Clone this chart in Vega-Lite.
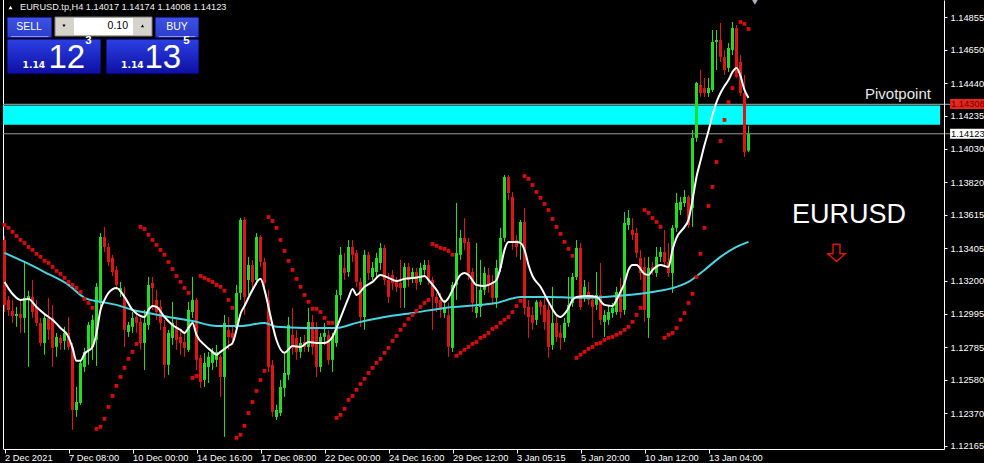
{
"$schema":"https://vega.github.io/schema/vega-lite/v6.json",
"width":941,"height":449,
"autosize":{"type":"none"},
"padding":{"left":3,"top":0,"right":40,"bottom":14},
"background":"#000000",
"config":{"view":{"stroke":null},"scale":{"continuousPadding":0}},
"resolve":{"axis":{"x":"independent","y":"independent"}},
"datasets":{
"one":[{"k":1}],
"candles":[
{"bar":0,"o":1.13457,"h":1.13482,"l":1.13005,"c":1.13050},
{"bar":1,"o":1.13081,"h":1.13106,"l":1.12980,"c":1.13018},
{"bar":2,"o":1.13012,"h":1.13081,"l":1.12937,"c":1.12980},
{"bar":3,"o":1.12980,"h":1.13037,"l":1.12912,"c":1.12993},
{"bar":4,"o":1.12993,"h":1.13081,"l":1.12874,"c":1.12968},
{"bar":5,"o":1.12968,"h":1.13319,"l":1.12874,"c":1.13094},
{"bar":6,"o":1.13081,"h":1.13138,"l":1.12661,"c":1.13106},
{"bar":7,"o":1.13100,"h":1.13206,"l":1.12968,"c":1.13005},
{"bar":8,"o":1.13037,"h":1.13081,"l":1.12918,"c":1.12937},
{"bar":9,"o":1.12937,"h":1.12968,"l":1.12792,"c":1.12811},
{"bar":10,"o":1.12811,"h":1.12999,"l":1.12737,"c":1.12968},
{"bar":11,"o":1.12968,"h":1.13094,"l":1.12830,"c":1.12893},
{"bar":12,"o":1.12968,"h":1.13050,"l":1.12661,"c":1.12780},
{"bar":13,"o":1.12786,"h":1.12874,"l":1.12724,"c":1.12849},
{"bar":14,"o":1.12843,"h":1.12862,"l":1.12768,"c":1.12811},
{"bar":15,"o":1.12824,"h":1.12912,"l":1.12768,"c":1.12874},
{"bar":16,"o":1.12874,"h":1.12974,"l":1.12768,"c":1.12786},
{"bar":17,"o":1.12786,"h":1.12811,"l":1.12266,"c":1.12391},
{"bar":18,"o":1.12391,"h":1.12535,"l":1.12347,"c":1.12441},
{"bar":19,"o":1.12435,"h":1.12705,"l":1.12423,"c":1.12686},
{"bar":20,"o":1.12661,"h":1.12780,"l":1.12629,"c":1.12755},
{"bar":21,"o":1.12768,"h":1.12943,"l":1.12674,"c":1.12924},
{"bar":22,"o":1.12786,"h":1.12987,"l":1.12705,"c":1.12956},
{"bar":23,"o":1.12830,"h":1.13187,"l":1.12667,"c":1.13163},
{"bar":24,"o":1.13062,"h":1.13501,"l":1.13031,"c":1.13476},
{"bar":25,"o":1.13476,"h":1.13539,"l":1.13382,"c":1.13413},
{"bar":26,"o":1.13413,"h":1.13438,"l":1.13294,"c":1.13319},
{"bar":27,"o":1.13345,"h":1.13364,"l":1.13231,"c":1.13256},
{"bar":28,"o":1.13269,"h":1.13294,"l":1.13144,"c":1.13175},
{"bar":29,"o":1.13131,"h":1.13194,"l":1.13100,"c":1.13156},
{"bar":30,"o":1.13100,"h":1.13163,"l":1.12786,"c":1.12893},
{"bar":31,"o":1.12880,"h":1.12943,"l":1.12849,"c":1.12924},
{"bar":32,"o":1.12912,"h":1.13005,"l":1.12874,"c":1.12968},
{"bar":33,"o":1.12974,"h":1.13018,"l":1.12874,"c":1.12937},
{"bar":34,"o":1.12943,"h":1.12968,"l":1.12768,"c":1.12811},
{"bar":35,"o":1.12811,"h":1.13018,"l":1.12642,"c":1.12937},
{"bar":36,"o":1.12924,"h":1.13225,"l":1.12893,"c":1.13175},
{"bar":37,"o":1.13187,"h":1.13225,"l":1.13018,"c":1.13156},
{"bar":38,"o":1.13081,"h":1.13144,"l":1.12956,"c":1.13005},
{"bar":39,"o":1.13037,"h":1.13081,"l":1.12893,"c":1.12937},
{"bar":40,"o":1.12912,"h":1.12956,"l":1.12592,"c":1.12674},
{"bar":41,"o":1.12674,"h":1.12893,"l":1.12611,"c":1.12874},
{"bar":42,"o":1.12843,"h":1.13069,"l":1.12799,"c":1.12937},
{"bar":43,"o":1.12905,"h":1.12956,"l":1.12768,"c":1.12830},
{"bar":44,"o":1.12849,"h":1.12893,"l":1.12737,"c":1.12811},
{"bar":45,"o":1.12817,"h":1.12874,"l":1.12724,"c":1.12780},
{"bar":46,"o":1.12768,"h":1.13069,"l":1.12755,"c":1.13018},
{"bar":47,"o":1.13005,"h":1.13225,"l":1.12968,"c":1.13081},
{"bar":48,"o":1.13081,"h":1.13094,"l":1.12642,"c":1.12705},
{"bar":49,"o":1.12717,"h":1.12737,"l":1.12529,"c":1.12567},
{"bar":50,"o":1.12579,"h":1.12749,"l":1.12535,"c":1.12686},
{"bar":51,"o":1.12661,"h":1.12755,"l":1.12560,"c":1.12724},
{"bar":52,"o":1.12686,"h":1.12780,"l":1.12642,"c":1.12755},
{"bar":53,"o":1.12705,"h":1.12799,"l":1.12661,"c":1.12755},
{"bar":54,"o":1.12724,"h":1.12737,"l":1.12473,"c":1.12598},
{"bar":55,"o":1.12598,"h":1.12987,"l":1.12222,"c":1.12937},
{"bar":56,"o":1.12893,"h":1.12974,"l":1.12768,"c":1.12849},
{"bar":57,"o":1.12874,"h":1.12924,"l":1.12799,"c":1.12843},
{"bar":58,"o":1.12905,"h":1.13175,"l":1.12874,"c":1.13125},
{"bar":59,"o":1.13125,"h":1.13595,"l":1.13081,"c":1.13583},
{"bar":60,"o":1.13583,"h":1.13601,"l":1.12987,"c":1.13100},
{"bar":61,"o":1.13206,"h":1.13351,"l":1.13112,"c":1.13300},
{"bar":62,"o":1.13300,"h":1.13332,"l":1.13144,"c":1.13194},
{"bar":63,"o":1.13206,"h":1.13501,"l":1.13175,"c":1.13476},
{"bar":64,"o":1.13476,"h":1.13489,"l":1.13288,"c":1.13319},
{"bar":65,"o":1.13319,"h":1.13345,"l":1.13144,"c":1.13187},
{"bar":66,"o":1.13081,"h":1.13144,"l":1.12629,"c":1.12661},
{"bar":67,"o":1.12674,"h":1.12705,"l":1.12347,"c":1.12379},
{"bar":68,"o":1.12347,"h":1.12423,"l":1.12328,"c":1.12391},
{"bar":69,"o":1.12372,"h":1.12579,"l":1.12353,"c":1.12535},
{"bar":70,"o":1.12529,"h":1.12749,"l":1.12473,"c":1.12623},
{"bar":71,"o":1.12611,"h":1.12974,"l":1.12579,"c":1.12924},
{"bar":72,"o":1.12862,"h":1.13031,"l":1.12737,"c":1.12780},
{"bar":73,"o":1.12843,"h":1.12893,"l":1.12705,"c":1.12755},
{"bar":74,"o":1.12755,"h":1.12849,"l":1.12717,"c":1.12811},
{"bar":75,"o":1.12817,"h":1.12862,"l":1.12755,"c":1.12786},
{"bar":76,"o":1.12786,"h":1.13031,"l":1.12755,"c":1.12943},
{"bar":77,"o":1.12943,"h":1.12987,"l":1.12737,"c":1.12786},
{"bar":78,"o":1.12905,"h":1.12943,"l":1.12598,"c":1.12661},
{"bar":79,"o":1.12661,"h":1.12874,"l":1.12629,"c":1.12849},
{"bar":80,"o":1.12849,"h":1.12937,"l":1.12799,"c":1.12874},
{"bar":81,"o":1.12862,"h":1.12893,"l":1.12674,"c":1.12705},
{"bar":82,"o":1.12705,"h":1.12874,"l":1.12629,"c":1.12849},
{"bar":83,"o":1.12811,"h":1.13144,"l":1.12786,"c":1.13112},
{"bar":84,"o":1.13112,"h":1.13413,"l":1.13081,"c":1.13364},
{"bar":85,"o":1.13282,"h":1.13376,"l":1.13206,"c":1.13250},
{"bar":86,"o":1.13256,"h":1.13457,"l":1.13225,"c":1.13413},
{"bar":87,"o":1.13413,"h":1.13457,"l":1.13319,"c":1.13364},
{"bar":88,"o":1.13376,"h":1.13395,"l":1.13163,"c":1.13194},
{"bar":89,"o":1.13194,"h":1.13219,"l":1.12912,"c":1.12974},
{"bar":90,"o":1.12974,"h":1.13395,"l":1.12893,"c":1.13364},
{"bar":91,"o":1.13364,"h":1.13382,"l":1.13206,"c":1.13250},
{"bar":92,"o":1.13225,"h":1.13319,"l":1.13206,"c":1.13282},
{"bar":93,"o":1.13256,"h":1.13376,"l":1.13219,"c":1.13345},
{"bar":94,"o":1.13313,"h":1.13438,"l":1.13269,"c":1.13407},
{"bar":95,"o":1.13407,"h":1.13426,"l":1.13175,"c":1.13206},
{"bar":96,"o":1.13206,"h":1.13250,"l":1.13062,"c":1.13100},
{"bar":97,"o":1.13238,"h":1.13269,"l":1.13144,"c":1.13187},
{"bar":98,"o":1.13194,"h":1.13225,"l":1.13131,"c":1.13163},
{"bar":99,"o":1.13187,"h":1.13332,"l":1.13031,"c":1.13156},
{"bar":100,"o":1.13156,"h":1.13313,"l":1.13031,"c":1.13288},
{"bar":101,"o":1.13288,"h":1.13313,"l":1.13163,"c":1.13206},
{"bar":102,"o":1.13219,"h":1.13282,"l":1.13187,"c":1.13256},
{"bar":103,"o":1.13256,"h":1.13282,"l":1.13144,"c":1.13187},
{"bar":104,"o":1.13194,"h":1.13313,"l":1.13175,"c":1.13282},
{"bar":105,"o":1.13269,"h":1.13332,"l":1.13238,"c":1.13300},
{"bar":106,"o":1.13300,"h":1.13332,"l":1.13175,"c":1.13206},
{"bar":107,"o":1.13206,"h":1.13225,"l":1.12893,"c":1.13100},
{"bar":108,"o":1.13100,"h":1.13125,"l":1.13005,"c":1.13062},
{"bar":109,"o":1.13081,"h":1.13125,"l":1.12968,"c":1.13018},
{"bar":110,"o":1.12999,"h":1.13081,"l":1.12968,"c":1.13037},
{"bar":111,"o":1.12987,"h":1.13062,"l":1.12724,"c":1.12786},
{"bar":112,"o":1.12780,"h":1.13194,"l":1.12755,"c":1.13175},
{"bar":113,"o":1.13175,"h":1.13689,"l":1.13081,"c":1.13376},
{"bar":114,"o":1.13364,"h":1.13520,"l":1.13332,"c":1.13470},
{"bar":115,"o":1.13470,"h":1.13595,"l":1.13395,"c":1.13438},
{"bar":116,"o":1.13445,"h":1.13470,"l":1.13206,"c":1.13250},
{"bar":117,"o":1.13256,"h":1.13282,"l":1.13005,"c":1.13062},
{"bar":118,"o":1.12999,"h":1.13438,"l":1.12968,"c":1.13037},
{"bar":119,"o":1.13037,"h":1.13332,"l":1.12974,"c":1.13144},
{"bar":120,"o":1.13144,"h":1.13288,"l":1.13112,"c":1.13250},
{"bar":121,"o":1.13238,"h":1.13282,"l":1.13125,"c":1.13175},
{"bar":122,"o":1.13194,"h":1.13238,"l":1.13050,"c":1.13094},
{"bar":123,"o":1.13094,"h":1.13332,"l":1.13031,"c":1.13282},
{"bar":124,"o":1.13282,"h":1.13533,"l":1.13256,"c":1.13470},
{"bar":125,"o":1.13470,"h":1.13865,"l":1.13445,"c":1.13852},
{"bar":126,"o":1.13852,"h":1.13865,"l":1.13708,"c":1.13752},
{"bar":127,"o":1.13727,"h":1.13758,"l":1.13395,"c":1.13438},
{"bar":128,"o":1.13457,"h":1.13489,"l":1.13351,"c":1.13413},
{"bar":129,"o":1.13445,"h":1.13583,"l":1.13332,"c":1.13570},
{"bar":130,"o":1.13570,"h":1.13658,"l":1.12987,"c":1.13031},
{"bar":131,"o":1.13037,"h":1.13081,"l":1.12843,"c":1.12974},
{"bar":132,"o":1.12987,"h":1.13037,"l":1.12893,"c":1.12937},
{"bar":133,"o":1.12956,"h":1.13081,"l":1.12924,"c":1.13069},
{"bar":134,"o":1.13069,"h":1.13081,"l":1.12987,"c":1.13037},
{"bar":135,"o":1.13050,"h":1.13094,"l":1.12893,"c":1.12943},
{"bar":136,"o":1.13018,"h":1.13081,"l":1.12717,"c":1.12786},
{"bar":137,"o":1.12799,"h":1.13163,"l":1.12768,"c":1.12937},
{"bar":138,"o":1.12937,"h":1.12987,"l":1.12817,"c":1.12849},
{"bar":139,"o":1.12874,"h":1.12924,"l":1.12768,"c":1.12843},
{"bar":140,"o":1.12843,"h":1.12968,"l":1.12817,"c":1.12937},
{"bar":141,"o":1.12937,"h":1.13225,"l":1.12912,"c":1.13050},
{"bar":142,"o":1.13062,"h":1.13250,"l":1.13037,"c":1.13225},
{"bar":143,"o":1.13225,"h":1.13457,"l":1.13206,"c":1.13407},
{"bar":144,"o":1.13407,"h":1.13438,"l":1.13018,"c":1.13037},
{"bar":145,"o":1.13100,"h":1.13206,"l":1.13069,"c":1.13163},
{"bar":146,"o":1.13131,"h":1.13194,"l":1.13050,"c":1.13081},
{"bar":147,"o":1.13081,"h":1.13112,"l":1.12843,"c":1.13037},
{"bar":148,"o":1.13050,"h":1.13256,"l":1.13018,"c":1.13112},
{"bar":149,"o":1.13112,"h":1.13313,"l":1.12924,"c":1.12956},
{"bar":150,"o":1.12943,"h":1.13018,"l":1.12849,"c":1.12987},
{"bar":151,"o":1.12956,"h":1.13050,"l":1.12924,"c":1.13005},
{"bar":152,"o":1.12999,"h":1.13062,"l":1.12968,"c":1.13031},
{"bar":153,"o":1.13005,"h":1.13163,"l":1.12987,"c":1.13131},
{"bar":154,"o":1.13131,"h":1.13219,"l":1.12968,"c":1.13005},
{"bar":155,"o":1.13018,"h":1.13633,"l":1.12987,"c":1.13564},
{"bar":156,"o":1.13551,"h":1.13645,"l":1.13520,"c":1.13595},
{"bar":157,"o":1.13520,"h":1.13595,"l":1.13457,"c":1.13489},
{"bar":158,"o":1.13501,"h":1.13533,"l":1.13345,"c":1.13376},
{"bar":159,"o":1.13345,"h":1.13395,"l":1.13206,"c":1.13250},
{"bar":160,"o":1.13288,"h":1.13351,"l":1.12943,"c":1.13018},
{"bar":161,"o":1.12968,"h":1.13351,"l":1.12843,"c":1.13282},
{"bar":162,"o":1.13288,"h":1.13319,"l":1.13238,"c":1.13269},
{"bar":163,"o":1.13250,"h":1.13413,"l":1.13225,"c":1.13351},
{"bar":164,"o":1.13351,"h":1.13413,"l":1.13319,"c":1.13382},
{"bar":165,"o":1.13382,"h":1.13520,"l":1.13288,"c":1.13319},
{"bar":166,"o":1.13319,"h":1.13438,"l":1.13225,"c":1.13250},
{"bar":167,"o":1.13250,"h":1.13551,"l":1.13125,"c":1.13533},
{"bar":168,"o":1.13533,"h":1.13752,"l":1.13508,"c":1.13689},
{"bar":169,"o":1.13645,"h":1.13727,"l":1.13614,"c":1.13696},
{"bar":170,"o":1.13689,"h":1.13771,"l":1.13664,"c":1.13727},
{"bar":171,"o":1.13727,"h":1.13739,"l":1.13533,"c":1.13551},
{"bar":172,"o":1.13658,"h":1.14147,"l":1.13539,"c":1.14097},
{"bar":173,"o":1.14097,"h":1.14448,"l":1.14072,"c":1.14442},
{"bar":174,"o":1.14429,"h":1.14523,"l":1.14354,"c":1.14379},
{"bar":175,"o":1.14410,"h":1.14473,"l":1.14354,"c":1.14379},
{"bar":176,"o":1.14379,"h":1.14473,"l":1.14354,"c":1.14410},
{"bar":177,"o":1.14398,"h":1.14774,"l":1.14385,"c":1.14699},
{"bar":178,"o":1.14699,"h":1.14774,"l":1.14523,"c":1.14711},
{"bar":179,"o":1.14711,"h":1.14818,"l":1.14573,"c":1.14605},
{"bar":180,"o":1.14605,"h":1.14649,"l":1.14492,"c":1.14523},
{"bar":181,"o":1.14536,"h":1.14692,"l":1.14511,"c":1.14661},
{"bar":182,"o":1.14649,"h":1.14824,"l":1.14617,"c":1.14786},
{"bar":183,"o":1.14786,"h":1.14805,"l":1.14473,"c":1.14504},
{"bar":184,"o":1.14573,"h":1.14617,"l":1.14360,"c":1.14379},
{"bar":185,"o":1.14379,"h":1.14492,"l":1.13978,"c":1.14009},
{"bar":186,"o":1.14017,"h":1.14174,"l":1.14008,"c":1.14123}
],
"sar":[
{"bar":0,"sar":1.13551},{"bar":1,"sar":1.13533},{"bar":2,"sar":1.13508},{"bar":3,"sar":1.13482},{"bar":4,"sar":1.13457},{"bar":5,"sar":1.13438},{"bar":6,"sar":1.13413},{"bar":7,"sar":1.13395},{"bar":8,"sar":1.13370},{"bar":9,"sar":1.13351},{"bar":10,"sar":1.13326},{"bar":11,"sar":1.13313},{"bar":12,"sar":1.13288},{"bar":13,"sar":1.13263},{"bar":14,"sar":1.13244},{"bar":15,"sar":1.13219},{"bar":16,"sar":1.13194},{"bar":17,"sar":1.13175},{"bar":18,"sar":1.13156},{"bar":19,"sar":1.13131},{"bar":20,"sar":1.13087},{"bar":21,"sar":1.13062},{"bar":22,"sar":1.13031},
{"bar":23,"sar":1.12272},{"bar":24,"sar":1.12285},{"bar":25,"sar":1.12335},{"bar":26,"sar":1.12410},{"bar":27,"sar":1.12479},{"bar":28,"sar":1.12542},{"bar":29,"sar":1.12598},{"bar":30,"sar":1.12655},{"bar":31,"sar":1.12711},{"bar":32,"sar":1.12755},{"bar":33,"sar":1.12805},
{"bar":34,"sar":1.13539},{"bar":35,"sar":1.13526},{"bar":36,"sar":1.13489},{"bar":37,"sar":1.13457},{"bar":38,"sar":1.13426},{"bar":39,"sar":1.13395},{"bar":40,"sar":1.13364},{"bar":41,"sar":1.13319},{"bar":42,"sar":1.13275},{"bar":43,"sar":1.13231},{"bar":44,"sar":1.13194},{"bar":45,"sar":1.13156},{"bar":46,"sar":1.13125},
{"bar":47,"sar":1.12592},{"bar":48,"sar":1.12604},
{"bar":49,"sar":1.13231},{"bar":50,"sar":1.13219},{"bar":51,"sar":1.13206},{"bar":52,"sar":1.13194},{"bar":53,"sar":1.13175},{"bar":54,"sar":1.13163},{"bar":55,"sar":1.13138},{"bar":56,"sar":1.13081},{"bar":57,"sar":1.13031},
{"bar":58,"sar":1.12216},{"bar":59,"sar":1.12235},{"bar":60,"sar":1.12291},{"bar":61,"sar":1.12372},{"bar":62,"sar":1.12441},{"bar":63,"sar":1.12510},{"bar":64,"sar":1.12579},{"bar":65,"sar":1.12636},
{"bar":66,"sar":1.13601},{"bar":67,"sar":1.13576},{"bar":68,"sar":1.13533},{"bar":69,"sar":1.13457},{"bar":70,"sar":1.13388},{"bar":71,"sar":1.13326},{"bar":72,"sar":1.13269},{"bar":73,"sar":1.13213},{"bar":74,"sar":1.13163},{"bar":75,"sar":1.13112},{"bar":76,"sar":1.13069},{"bar":77,"sar":1.13025},{"bar":78,"sar":1.13025},{"bar":79,"sar":1.13005},{"bar":80,"sar":1.12968},{"bar":81,"sar":1.12937},{"bar":82,"sar":1.12937},
{"bar":83,"sar":1.12341},{"bar":84,"sar":1.12360},{"bar":85,"sar":1.12398},{"bar":86,"sar":1.12454},{"bar":87,"sar":1.12479},{"bar":88,"sar":1.12517},{"bar":89,"sar":1.12554},{"bar":90,"sar":1.12586},{"bar":91,"sar":1.12623},{"bar":92,"sar":1.12655},{"bar":93,"sar":1.12686},{"bar":94,"sar":1.12711},{"bar":95,"sar":1.12749},{"bar":96,"sar":1.12780},{"bar":97,"sar":1.12824},{"bar":98,"sar":1.12855},{"bar":99,"sar":1.12893},{"bar":100,"sar":1.12924},{"bar":101,"sar":1.12962},{"bar":102,"sar":1.12987},{"bar":103,"sar":1.13012},{"bar":104,"sar":1.13037},{"bar":105,"sar":1.13062},{"bar":106,"sar":1.13081},
{"bar":107,"sar":1.13432},{"bar":108,"sar":1.13420},{"bar":109,"sar":1.13407},{"bar":110,"sar":1.13401},{"bar":111,"sar":1.13388},{"bar":112,"sar":1.13364},
{"bar":113,"sar":1.12730},{"bar":114,"sar":1.12749},{"bar":115,"sar":1.12768},{"bar":116,"sar":1.12786},{"bar":117,"sar":1.12805},{"bar":118,"sar":1.12817},{"bar":119,"sar":1.12843},{"bar":120,"sar":1.12855},{"bar":121,"sar":1.12874},{"bar":122,"sar":1.12899},{"bar":123,"sar":1.12912},{"bar":124,"sar":1.12937},{"bar":125,"sar":1.12956},{"bar":126,"sar":1.12974},{"bar":127,"sar":1.13005},{"bar":128,"sar":1.13043},{"bar":129,"sar":1.13075},
{"bar":130,"sar":1.13858},{"bar":131,"sar":1.13840},{"bar":132,"sar":1.13802},{"bar":133,"sar":1.13758},{"bar":134,"sar":1.13721},{"bar":135,"sar":1.13683},{"bar":136,"sar":1.13645},{"bar":137,"sar":1.13589},{"bar":138,"sar":1.13539},{"bar":139,"sar":1.13495},{"bar":140,"sar":1.13445},{"bar":141,"sar":1.13401},{"bar":142,"sar":1.13357},
{"bar":143,"sar":1.12717},{"bar":144,"sar":1.12737},{"bar":145,"sar":1.12755},{"bar":146,"sar":1.12774},{"bar":147,"sar":1.12786},{"bar":148,"sar":1.12805},{"bar":149,"sar":1.12811},{"bar":150,"sar":1.12830},{"bar":151,"sar":1.12843},{"bar":152,"sar":1.12849},{"bar":153,"sar":1.12862},{"bar":154,"sar":1.12874},{"bar":155,"sar":1.12893},{"bar":156,"sar":1.12912},{"bar":157,"sar":1.12943},{"bar":158,"sar":1.12987},{"bar":159,"sar":1.13031},
{"bar":160,"sar":1.13645},{"bar":161,"sar":1.13627},{"bar":162,"sar":1.13595},{"bar":163,"sar":1.13570},{"bar":164,"sar":1.13539},
{"bar":165,"sar":1.12843},{"bar":166,"sar":1.12862},{"bar":167,"sar":1.12874},{"bar":168,"sar":1.12905},{"bar":169,"sar":1.12956},{"bar":170,"sar":1.12999},{"bar":171,"sar":1.13062},{"bar":172,"sar":1.13119},{"bar":173,"sar":1.13225},{"bar":174,"sar":1.13370},{"bar":175,"sar":1.13533},{"bar":176,"sar":1.13670},{"bar":177,"sar":1.13790},{"bar":178,"sar":1.13946},{"bar":179,"sar":1.14078},{"bar":180,"sar":1.14210},{"bar":181,"sar":1.14322},{"bar":182,"sar":1.14410},{"bar":183,"sar":1.14492},
{"bar":184,"sar":1.14824},{"bar":185,"sar":1.14812},{"bar":186,"sar":1.14780}
],
"fast":[
{"bar":0,"ma":1.13194},{"bar":2,"ma":1.13119},{"bar":4,"ma":1.13081},{"bar":6,"ma":1.13087},{"bar":8,"ma":1.13037},{"bar":10,"ma":1.12993},{"bar":12,"ma":1.12956},{"bar":14,"ma":1.12905},{"bar":16,"ma":1.12849},{"bar":17,"ma":1.12780},{"bar":18,"ma":1.12699},{"bar":19,"ma":1.12699},{"bar":20,"ma":1.12743},{"bar":22,"ma":1.12786},{"bar":23,"ma":1.12874},{"bar":24,"ma":1.13018},{"bar":25,"ma":1.13081},{"bar":26,"ma":1.13125},{"bar":28,"ma":1.13156},{"bar":30,"ma":1.13100},{"bar":32,"ma":1.13018},{"bar":34,"ma":1.12980},{"bar":35,"ma":1.12974},{"bar":36,"ma":1.13018},{"bar":37,"ma":1.13043},{"bar":38,"ma":1.13037},{"bar":40,"ma":1.12974},{"bar":42,"ma":1.12924},{"bar":44,"ma":1.12893},{"bar":45,"ma":1.12874},{"bar":46,"ma":1.12905},{"bar":47,"ma":1.12937},{"bar":48,"ma":1.12862},{"bar":50,"ma":1.12799},{"bar":52,"ma":1.12755},{"bar":53,"ma":1.12737},{"bar":54,"ma":1.12755},{"bar":56,"ma":1.12792},{"bar":57,"ma":1.12811},{"bar":58,"ma":1.12893},{"bar":59,"ma":1.12993},{"bar":60,"ma":1.13043},{"bar":62,"ma":1.13144},{"bar":64,"ma":1.13213},{"bar":65,"ma":1.13144},{"bar":66,"ma":1.13037},{"bar":67,"ma":1.12924},{"bar":68,"ma":1.12830},{"bar":70,"ma":1.12749},{"bar":72,"ma":1.12792},{"bar":74,"ma":1.12786},{"bar":76,"ma":1.12817},{"bar":78,"ma":1.12811},{"bar":80,"ma":1.12811},{"bar":82,"ma":1.12849},{"bar":83,"ma":1.12905},{"bar":84,"ma":1.12968},{"bar":86,"ma":1.13094},{"bar":87,"ma":1.13150},{"bar":88,"ma":1.13112},{"bar":90,"ma":1.13163},{"bar":92,"ma":1.13194},{"bar":94,"ma":1.13238},{"bar":96,"ma":1.13219},{"bar":98,"ma":1.13200},{"bar":100,"ma":1.13213},{"bar":102,"ma":1.13219},{"bar":104,"ma":1.13225},{"bar":105,"ma":1.13231},{"bar":106,"ma":1.13206},{"bar":108,"ma":1.13144},{"bar":110,"ma":1.13069},{"bar":111,"ma":1.13094},{"bar":112,"ma":1.13144},{"bar":114,"ma":1.13238},{"bar":115,"ma":1.13250},{"bar":116,"ma":1.13238},{"bar":118,"ma":1.13175},{"bar":120,"ma":1.13169},{"bar":122,"ma":1.13187},{"bar":123,"ma":1.13206},{"bar":124,"ma":1.13282},{"bar":125,"ma":1.13395},{"bar":126,"ma":1.13445},{"bar":128,"ma":1.13445},{"bar":129,"ma":1.13438},{"bar":130,"ma":1.13395},{"bar":131,"ma":1.13300},{"bar":132,"ma":1.13231},{"bar":134,"ma":1.13163},{"bar":136,"ma":1.13069},{"bar":138,"ma":1.12987},{"bar":139,"ma":1.12974},{"bar":140,"ma":1.12993},{"bar":141,"ma":1.13031},{"bar":142,"ma":1.13081},{"bar":143,"ma":1.13100},{"bar":146,"ma":1.13106},{"bar":148,"ma":1.13100},{"bar":150,"ma":1.13050},{"bar":152,"ma":1.13043},{"bar":153,"ma":1.13081},{"bar":154,"ma":1.13131},{"bar":155,"ma":1.13187},{"bar":156,"ma":1.13269},{"bar":157,"ma":1.13300},{"bar":158,"ma":1.13300},{"bar":160,"ma":1.13244},{"bar":161,"ma":1.13238},{"bar":162,"ma":1.13269},{"bar":164,"ma":1.13300},{"bar":166,"ma":1.13288},{"bar":167,"ma":1.13395},{"bar":168,"ma":1.13470},{"bar":170,"ma":1.13539},{"bar":171,"ma":1.13583},{"bar":172,"ma":1.13708},{"bar":173,"ma":1.13852},{"bar":174,"ma":1.13953},{"bar":175,"ma":1.14053},{"bar":176,"ma":1.14141},{"bar":177,"ma":1.14241},{"bar":178,"ma":1.14322},{"bar":179,"ma":1.14379},{"bar":180,"ma":1.14423},{"bar":181,"ma":1.14460},{"bar":182,"ma":1.14511},{"bar":183,"ma":1.14536},{"bar":184,"ma":1.14486},{"bar":185,"ma":1.14398},{"bar":186,"ma":1.14348}
],
"slow":[
{"bar":0,"ma":1.13376},{"bar":5,"ma":1.13319},{"bar":10,"ma":1.13256},{"bar":16,"ma":1.13175},{"bar":20,"ma":1.13094},{"bar":24,"ma":1.13069},{"bar":28,"ma":1.13050},{"bar":32,"ma":1.13018},{"bar":36,"ma":1.12999},{"bar":41,"ma":1.12974},{"bar":47,"ma":1.12949},{"bar":53,"ma":1.12918},{"bar":59,"ma":1.12918},{"bar":65,"ma":1.12937},{"bar":68,"ma":1.12912},{"bar":75,"ma":1.12905},{"bar":83,"ma":1.12905},{"bar":88,"ma":1.12937},{"bar":95,"ma":1.12974},{"bar":102,"ma":1.12999},{"bar":110,"ma":1.13031},{"bar":119,"ma":1.13050},{"bar":123,"ma":1.13062},{"bar":129,"ma":1.13100},{"bar":136,"ma":1.13100},{"bar":143,"ma":1.13094},{"bar":150,"ma":1.13100},{"bar":156,"ma":1.13112},{"bar":162,"ma":1.13131},{"bar":168,"ma":1.13163},{"bar":171,"ma":1.13194},{"bar":175,"ma":1.13269},{"bar":179,"ma":1.13351},{"bar":183,"ma":1.13413},{"bar":186,"ma":1.13445}
]
},
"layer":[
{"data":{"name":"candles"},
 "mark":{"type":"tick","opacity":0},
 "encoding":{
  "x":{"field":"bar","type":"quantitative","scale":{"domain":[-0.375,234.875],"nice":false,"zero":false},
   "axis":{"orient":"bottom","values":[0,16,32,48,64,80,96,112,128,144,160,176],
    "labelExpr":"datum.value==0?'2 Dec 2021':datum.value==16?'7 Dec 08:00':datum.value==32?'10 Dec 00:00':datum.value==48?'14 Dec 16:00':datum.value==64?'17 Dec 08:00':datum.value==80?'22 Dec 00:00':datum.value==96?'24 Dec 16:00':datum.value==112?'29 Dec 12:00':datum.value==128?'3 Jan 05:15':datum.value==144?'5 Jan 20:00':datum.value==160?'10 Jan 12:00':'13 Jan 04:00'",
    "labelAlign":"left","labelBaseline":"top","labelPadding":0,"tickSize":4,"tickColor":"#ffffff",
    "domain":true,"domainColor":"#ffffff","domainWidth":1,"grid":false,"labelColor":"#ffffff","labelFont":"Liberation Sans","labelFontSize":9.3,"title":null,"zindex":2}},
  "y":{"field":"l","type":"quantitative","scale":{"domain":[1.12146,1.14962],"nice":false,"zero":false},
   "axis":{"orient":"right","values":[1.12165,1.1237,1.1258,1.12785,1.12995,1.132,1.13405,1.13615,1.1382,1.1403,1.14235,1.1444,1.1465,1.14855],
    "format":".5f","tickSize":3,"tickColor":"#ffffff","labelPadding":3,"domain":true,"domainColor":"#ffffff","domainWidth":1,"grid":false,"labelColor":"#ffffff","labelFont":"Liberation Sans","labelFontSize":9.3,"labelBaseline":"middle","title":null,"zindex":2}}}},
{"data":{"name":"one"},"mark":{"type":"rule","stroke":"#ffffff","strokeWidth":1},
 "encoding":{"x":{"datum":-0.25,"type":"quantitative","scale":{"domain":[-0.375,234.875],"nice":false,"zero":false},"axis":null}}},
{"data":{"name":"one"},"mark":{"type":"rect","fill":"#00ffff"},
 "encoding":{"x":{"datum":-0.375,"type":"quantitative","scale":{"domain":[-0.375,234.875],"nice":false,"zero":false},"axis":null},"x2":{"datum":233.9},
  "y":{"datum":1.14300,"type":"quantitative","scale":{"domain":[1.12146,1.14962],"nice":false,"zero":false},"axis":null},"y2":{"datum":1.14179}}},
{"data":{"name":"one"},"mark":{"type":"rule","stroke":"#8c8c8c","strokeWidth":1.2},
 "encoding":{"x":{"datum":-0.375,"type":"quantitative","scale":{"domain":[-0.375,234.875],"nice":false,"zero":false},"axis":null},"x2":{"datum":236.4},
  "y":{"datum":1.14308,"type":"quantitative","scale":{"domain":[1.12146,1.14962],"nice":false,"zero":false},"axis":null}}},
{"data":{"name":"one"},"mark":{"type":"rule","stroke":"#9a9a9a","strokeWidth":1},
 "encoding":{"x":{"datum":-0.375,"type":"quantitative","scale":{"domain":[-0.375,234.875],"nice":false,"zero":false},"axis":null},"x2":{"datum":236.4},
  "y":{"datum":1.14123,"type":"quantitative","scale":{"domain":[1.12146,1.14962],"nice":false,"zero":false},"axis":null}}},
{"data":{"name":"candles"},
 "mark":{"type":"rule","strokeWidth":1},
 "encoding":{
  "x":{"field":"bar","type":"quantitative","scale":{"domain":[-0.375,234.875],"nice":false,"zero":false},"axis":null},
  "y":{"field":"l","type":"quantitative","scale":{"domain":[1.12146,1.14962],"nice":false,"zero":false},"axis":null},
  "y2":{"field":"h"},
  "color":{"condition":{"test":"datum.c >= datum.o","value":"#22dd22"},"value":"#e01414"}}},
{"data":{"name":"candles"},
 "mark":{"type":"bar","size":3},
 "encoding":{
  "x":{"field":"bar","type":"quantitative","scale":{"domain":[-0.375,234.875],"nice":false,"zero":false},"axis":null},
  "y":{"field":"o","type":"quantitative","scale":{"domain":[1.12146,1.14962],"nice":false,"zero":false},"axis":null},
  "y2":{"field":"c"},
  "color":{"condition":{"test":"datum.c >= datum.o","value":"#22dd22"},"value":"#e01414"}}},
{"data":{"name":"slow"},
 "mark":{"type":"line","stroke":"#45d6e2","strokeWidth":2,"interpolate":"monotone"},
 "encoding":{
  "x":{"field":"bar","type":"quantitative","scale":{"domain":[-0.375,234.875],"nice":false,"zero":false},"axis":null},
  "y":{"field":"ma","type":"quantitative","scale":{"domain":[1.12146,1.14962],"nice":false,"zero":false},"axis":null}}},
{"data":{"name":"fast"},
 "mark":{"type":"line","stroke":"#ffffff","strokeWidth":2,"interpolate":"monotone"},
 "encoding":{
  "x":{"field":"bar","type":"quantitative","scale":{"domain":[-0.375,234.875],"nice":false,"zero":false},"axis":null},
  "y":{"field":"ma","type":"quantitative","scale":{"domain":[1.12146,1.14962],"nice":false,"zero":false},"axis":null}}},
{"data":{"name":"sar"},
 "mark":{"type":"square","size":14,"filled":true,"color":"#dd0a0a","opacity":1},
 "encoding":{
  "x":{"field":"bar","type":"quantitative","scale":{"domain":[-0.375,234.875],"nice":false,"zero":false},"axis":null},
  "y":{"field":"sar","type":"quantitative","scale":{"domain":[1.12146,1.14962],"nice":false,"zero":false},"axis":null}}},
{"data":{"name":"one"},"mark":{"type":"text","text":"Pivotpoint","font":"Liberation Sans","fontSize":15,"color":"#e8e8e8","align":"right","baseline":"alphabetic"},
 "encoding":{"x":{"datum":231.6,"type":"quantitative","scale":{"domain":[-0.375,234.875],"nice":false,"zero":false},"axis":null},
  "y":{"datum":1.14341,"type":"quantitative","scale":{"domain":[1.12146,1.14962],"nice":false,"zero":false},"axis":null}}},
{"data":{"name":"one"},"mark":{"type":"text","text":"EURUSD","font":"Liberation Sans","fontSize":27,"color":"#ffffff","align":"left","baseline":"alphabetic"},
 "encoding":{"x":{"datum":196.9,"type":"quantitative","scale":{"domain":[-0.375,234.875],"nice":false,"zero":false},"axis":null},
  "y":{"datum":1.13564,"type":"quantitative","scale":{"domain":[1.12146,1.14962],"nice":false,"zero":false},"axis":null}}},
{"data":{"name":"one"},"mark":{"type":"point","shape":"M-0.4,-1L0.4,-1L0.4,0.1L1,0.1L0,1L-1,0.1L-0.4,0.1Z","size":300,"filled":false,"stroke":"#e01010","strokeWidth":1.5,"opacity":1},
 "encoding":{"x":{"datum":208,"type":"quantitative","scale":{"domain":[-0.375,234.875],"nice":false,"zero":false},"axis":null},
  "y":{"datum":1.13376,"type":"quantitative","scale":{"domain":[1.12146,1.14962],"nice":false,"zero":false},"axis":null}}},
{"data":{"name":"one"},"mark":{"type":"rect","fill":"#e5261c"},
 "encoding":{"x":{"datum":236.4,"type":"quantitative","scale":{"domain":[-0.375,234.875],"nice":false,"zero":false},"axis":null},"x2":{"datum":246},
  "y":{"datum":1.14341,"type":"quantitative","scale":{"domain":[1.12146,1.14962],"nice":false,"zero":false},"axis":null},"y2":{"datum":1.14279}}},
{"data":{"name":"one"},"mark":{"type":"text","text":"1.14308","font":"Liberation Sans","fontSize":9.3,"color":"#700000","align":"left","baseline":"middle"},
 "encoding":{"x":{"datum":236.625,"type":"quantitative","scale":{"domain":[-0.375,234.875],"nice":false,"zero":false},"axis":null},
  "y":{"datum":1.14310,"type":"quantitative","scale":{"domain":[1.12146,1.14962],"nice":false,"zero":false},"axis":null}}},
{"data":{"name":"one"},"mark":{"type":"rect","fill":"#ffffff"},
 "encoding":{"x":{"datum":236.4,"type":"quantitative","scale":{"domain":[-0.375,234.875],"nice":false,"zero":false},"axis":null},"x2":{"datum":246},
  "y":{"datum":1.14154,"type":"quantitative","scale":{"domain":[1.12146,1.14962],"nice":false,"zero":false},"axis":null},"y2":{"datum":1.14092}}},
{"data":{"name":"one"},"mark":{"type":"text","text":"1.14123","font":"Liberation Sans","fontSize":9.3,"color":"#000000","align":"left","baseline":"middle"},
 "encoding":{"x":{"datum":236.625,"type":"quantitative","scale":{"domain":[-0.375,234.875],"nice":false,"zero":false},"axis":null},
  "y":{"datum":1.14123,"type":"quantitative","scale":{"domain":[1.12146,1.14962],"nice":false,"zero":false},"axis":null}}},
{"data":{"name":"one"},"mark":{"type":"point","shape":"triangle-up","size":16,"filled":true,"color":"#ffffff","opacity":1},
 "encoding":{"x":{"datum":1.5,"type":"quantitative","scale":{"domain":[-0.375,234.875],"nice":false,"zero":false},"axis":null},
  "y":{"datum":1.14915,"type":"quantitative","scale":{"domain":[1.12146,1.14962],"nice":false,"zero":false},"axis":null}}},
{"data":{"name":"one"},"mark":{"type":"text","text":"EURUSD.tp,H4  1.14017 1.14174 1.14008 1.14123","font":"Liberation Sans","fontSize":9.2,"color":"#f0f0f0","align":"left","baseline":"middle"},
 "encoding":{"x":{"datum":3.875,"type":"quantitative","scale":{"domain":[-0.375,234.875],"nice":false,"zero":false},"axis":null},
  "y":{"datum":1.14918,"type":"quantitative","scale":{"domain":[1.12146,1.14962],"nice":false,"zero":false},"axis":null}}},
{"data":{"name":"one"},"mark":{"type":"rect","fill":{"gradient":"linear","x1":0,"y1":0,"x2":0,"y2":1,"stops":[{"offset":0,"color":"#3d52e6"},{"offset":1,"color":"#2a3ccc"}]},"stroke":"#00003a","strokeWidth":1},
 "encoding":{"x":{"datum":0.625,"type":"quantitative","scale":{"domain":[-0.375,234.875],"nice":false,"zero":false},"axis":null},"x2":{"datum":11.875},
  "y":{"datum":1.14855,"type":"quantitative","scale":{"domain":[1.12146,1.14962],"nice":false,"zero":false},"axis":null},"y2":{"datum":1.14724}}},
{"data":{"name":"one"},"mark":{"type":"rect","fill":{"gradient":"linear","x1":0,"y1":0,"x2":0,"y2":1,"stops":[{"offset":0,"color":"#3d52e6"},{"offset":1,"color":"#2a3ccc"}]},"stroke":"#00003a","strokeWidth":1},
 "encoding":{"x":{"datum":37.625,"type":"quantitative","scale":{"domain":[-0.375,234.875],"nice":false,"zero":false},"axis":null},"x2":{"datum":48.625},
  "y":{"datum":1.14855,"type":"quantitative","scale":{"domain":[1.12146,1.14962],"nice":false,"zero":false},"axis":null},"y2":{"datum":1.14724}}},
{"data":{"name":"one"},"mark":{"type":"rule","stroke":"#8a98ff","strokeWidth":1},
 "encoding":{"x":{"datum":1.6,"type":"quantitative","scale":{"domain":[-0.375,234.875],"nice":false,"zero":false},"axis":null},"x2":{"datum":11.0},
  "y":{"datum":1.14733,"type":"quantitative","scale":{"domain":[1.12146,1.14962],"nice":false,"zero":false},"axis":null}}},
{"data":{"name":"one"},"mark":{"type":"rule","stroke":"#8a98ff","strokeWidth":1},
 "encoding":{"x":{"datum":38.6,"type":"quantitative","scale":{"domain":[-0.375,234.875],"nice":false,"zero":false},"axis":null},"x2":{"datum":47.7},
  "y":{"datum":1.14733,"type":"quantitative","scale":{"domain":[1.12146,1.14962],"nice":false,"zero":false},"axis":null}}},
{"data":{"name":"one"},"mark":{"type":"rect","fill":"#d6d3cc","stroke":"#808080","strokeWidth":1},
 "encoding":{"x":{"datum":12.625,"type":"quantitative","scale":{"domain":[-0.375,234.875],"nice":false,"zero":false},"axis":null},"x2":{"datum":36.875},
  "y":{"datum":1.14855,"type":"quantitative","scale":{"domain":[1.12146,1.14962],"nice":false,"zero":false},"axis":null},"y2":{"datum":1.14736}}},
{"data":{"name":"one"},"mark":{"type":"rect","fill":"#ffffff"},
 "encoding":{"x":{"datum":17.375,"type":"quantitative","scale":{"domain":[-0.375,234.875],"nice":false,"zero":false},"axis":null},"x2":{"datum":32.125},
  "y":{"datum":1.14849,"type":"quantitative","scale":{"domain":[1.12146,1.14962],"nice":false,"zero":false},"axis":null},"y2":{"datum":1.14742}}},
{"data":{"name":"one"},"mark":{"type":"rect","fill":{"gradient":"linear","x1":0,"y1":0,"x2":0,"y2":1,"stops":[{"offset":0,"color":"#2c40e4"},{"offset":1,"color":"#0d0fa2"}]},"stroke":"#00003a","strokeWidth":1},
 "encoding":{"x":{"datum":0.625,"type":"quantitative","scale":{"domain":[-0.375,234.875],"nice":false,"zero":false},"axis":null},"x2":{"datum":24.125},
  "y":{"datum":1.14717,"type":"quantitative","scale":{"domain":[1.12146,1.14962],"nice":false,"zero":false},"axis":null},"y2":{"datum":1.14498}}},
{"data":{"name":"one"},"mark":{"type":"rect","fill":{"gradient":"linear","x1":0,"y1":0,"x2":0,"y2":1,"stops":[{"offset":0,"color":"#2c40e4"},{"offset":1,"color":"#0d0fa2"}]},"stroke":"#00003a","strokeWidth":1},
 "encoding":{"x":{"datum":25.375,"type":"quantitative","scale":{"domain":[-0.375,234.875],"nice":false,"zero":false},"axis":null},"x2":{"datum":48.625},
  "y":{"datum":1.14717,"type":"quantitative","scale":{"domain":[1.12146,1.14962],"nice":false,"zero":false},"axis":null},"y2":{"datum":1.14498}}},
{"data":{"name":"one"},"mark":{"type":"text","text":"SELL","font":"Liberation Sans","fontSize":10.5,"color":"#ffffff","align":"center","baseline":"middle"},
 "encoding":{"x":{"datum":6.125,"type":"quantitative","scale":{"domain":[-0.375,234.875],"nice":false,"zero":false},"axis":null},
  "y":{"datum":1.14793,"type":"quantitative","scale":{"domain":[1.12146,1.14962],"nice":false,"zero":false},"axis":null}}},
{"data":{"name":"one"},"mark":{"type":"text","text":"BUY","font":"Liberation Sans","fontSize":10.5,"color":"#ffffff","align":"center","baseline":"middle"},
 "encoding":{"x":{"datum":43.125,"type":"quantitative","scale":{"domain":[-0.375,234.875],"nice":false,"zero":false},"axis":null},
  "y":{"datum":1.14793,"type":"quantitative","scale":{"domain":[1.12146,1.14962],"nice":false,"zero":false},"axis":null}}},
{"data":{"name":"one"},"mark":{"type":"text","text":"0.10","font":"Liberation Sans","fontSize":10.5,"color":"#000000","align":"right","baseline":"middle"},
 "encoding":{"x":{"datum":30.875,"type":"quantitative","scale":{"domain":[-0.375,234.875],"nice":false,"zero":false},"axis":null},
  "y":{"datum":1.14796,"type":"quantitative","scale":{"domain":[1.12146,1.14962],"nice":false,"zero":false},"axis":null}}},
{"data":{"name":"one"},"mark":{"type":"point","shape":"triangle-down","size":10,"filled":true,"color":"#000000","opacity":1},
 "encoding":{"x":{"datum":14.875,"type":"quantitative","scale":{"domain":[-0.375,234.875],"nice":false,"zero":false},"axis":null},
  "y":{"datum":1.14799,"type":"quantitative","scale":{"domain":[1.12146,1.14962],"nice":false,"zero":false},"axis":null}}},
{"data":{"name":"one"},"mark":{"type":"point","shape":"triangle-up","size":10,"filled":true,"color":"#000000","opacity":1},
 "encoding":{"x":{"datum":34.5,"type":"quantitative","scale":{"domain":[-0.375,234.875],"nice":false,"zero":false},"axis":null},
  "y":{"datum":1.14799,"type":"quantitative","scale":{"domain":[1.12146,1.14962],"nice":false,"zero":false},"axis":null}}},
{"data":{"name":"one"},"mark":{"type":"text","text":"1.14","font":"DejaVu Sans","fontWeight":"bold","fontSize":9.2,"color":"#ffffff","align":"left","baseline":"alphabetic"},
 "encoding":{"x":{"datum":4.5,"type":"quantitative","scale":{"domain":[-0.375,234.875],"nice":false,"zero":false},"axis":null},
  "y":{"datum":1.14536,"type":"quantitative","scale":{"domain":[1.12146,1.14962],"nice":false,"zero":false},"axis":null}}},
{"data":{"name":"one"},"mark":{"type":"text","text":"12","font":"Liberation Sans","fontSize":33,"color":"#ffffff","align":"left","baseline":"alphabetic"},
 "encoding":{"x":{"datum":11.0,"type":"quantitative","scale":{"domain":[-0.375,234.875],"nice":false,"zero":false},"axis":null},
  "y":{"datum":1.14536,"type":"quantitative","scale":{"domain":[1.12146,1.14962],"nice":false,"zero":false},"axis":null}}},
{"data":{"name":"one"},"mark":{"type":"text","text":"3","font":"Liberation Sans","fontWeight":"bold","fontSize":11.5,"color":"#ffffff","align":"left","baseline":"alphabetic"},
 "encoding":{"x":{"datum":20.2,"type":"quantitative","scale":{"domain":[-0.375,234.875],"nice":false,"zero":false},"axis":null},
  "y":{"datum":1.14686,"type":"quantitative","scale":{"domain":[1.12146,1.14962],"nice":false,"zero":false},"axis":null}}},
{"data":{"name":"one"},"mark":{"type":"text","text":"1.14","font":"DejaVu Sans","fontWeight":"bold","fontSize":9.2,"color":"#ffffff","align":"left","baseline":"alphabetic"},
 "encoding":{"x":{"datum":29.125,"type":"quantitative","scale":{"domain":[-0.375,234.875],"nice":false,"zero":false},"axis":null},
  "y":{"datum":1.14536,"type":"quantitative","scale":{"domain":[1.12146,1.14962],"nice":false,"zero":false},"axis":null}}},
{"data":{"name":"one"},"mark":{"type":"text","text":"13","font":"Liberation Sans","fontSize":33,"color":"#ffffff","align":"left","baseline":"alphabetic"},
 "encoding":{"x":{"datum":35.0,"type":"quantitative","scale":{"domain":[-0.375,234.875],"nice":false,"zero":false},"axis":null},
  "y":{"datum":1.14536,"type":"quantitative","scale":{"domain":[1.12146,1.14962],"nice":false,"zero":false},"axis":null}}},
{"data":{"name":"one"},"mark":{"type":"text","text":"5","font":"Liberation Sans","fontWeight":"bold","fontSize":11.5,"color":"#ffffff","align":"left","baseline":"alphabetic"},
 "encoding":{"x":{"datum":44.7,"type":"quantitative","scale":{"domain":[-0.375,234.875],"nice":false,"zero":false},"axis":null},
  "y":{"datum":1.14686,"type":"quantitative","scale":{"domain":[1.12146,1.14962],"nice":false,"zero":false},"axis":null}}},
{"data":{"name":"one"},"mark":{"type":"point","shape":"triangle-down","size":45,"filled":true,"color":"#a9b0c0","opacity":1},
 "encoding":{"x":{"datum":187.6,"type":"quantitative","scale":{"domain":[-0.375,234.875],"nice":false,"zero":false},"axis":null},
  "y":{"datum":1.14950,"type":"quantitative","scale":{"domain":[1.12146,1.14962],"nice":false,"zero":false},"axis":null}}}
]
}
